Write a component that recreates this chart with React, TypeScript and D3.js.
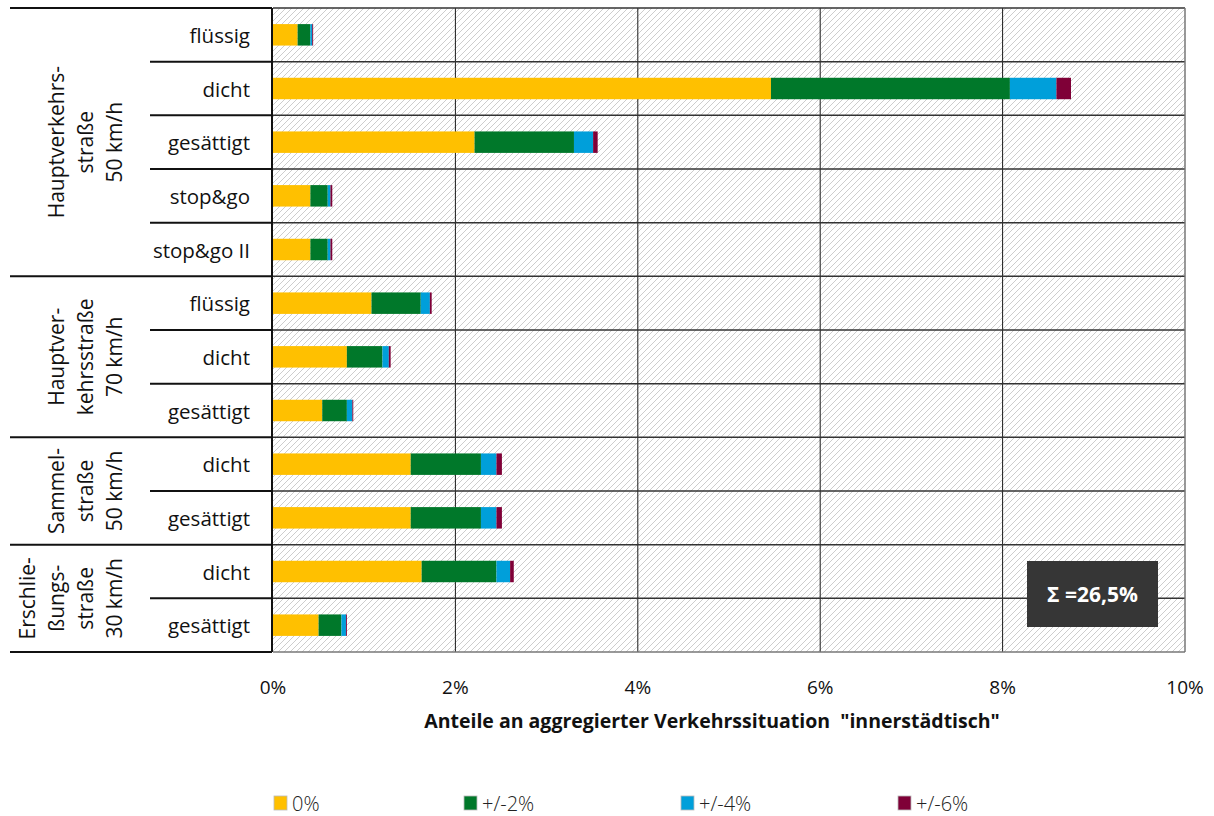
import * as d3 from "d3";

const seriesNames = ["0%", "+/-2%", "+/-4%", "+/-6%"];
const seriesColors = ["#FFC000", "#00782A", "#009FDA", "#7F0037"];

const groupLabels = [
  ["Hauptverkehrs-", "straße", "50 km/h"],
  ["Hauptver-", "kehrsstraße", "70 km/h"],
  ["Sammel-", "straße", "50 km/h"],
  ["Erschlie-", "ßungs-", "straße", "30 km/h"],
];
const conditions = [
  "flüssig", "dicht", "gesättigt", "stop&go", "stop&go II",
  "flüssig", "dicht", "gesättigt",
  "dicht", "gesättigt",
  "dicht", "gesättigt",
];
const rowGroup = [0, 0, 0, 0, 0, 1, 1, 1, 2, 2, 3, 3];

// shares in percent per deviation class
const share0 = [0.27, 5.46, 2.21, 0.41, 0.41, 1.08, 0.81, 0.54, 1.51, 1.51, 1.63, 0.5];
const share2 = [0.14, 2.62, 1.09, 0.19, 0.19, 0.54, 0.39, 0.27, 0.77, 0.77, 0.82, 0.25];
const share4 = [0.02, 0.51, 0.21, 0.03, 0.03, 0.1, 0.07, 0.06, 0.17, 0.17, 0.15, 0.05];
const share6 = [0.01, 0.16, 0.05, 0.02, 0.02, 0.02, 0.02, 0.01, 0.06, 0.06, 0.04, 0.01];

const xTicks = [0, 2, 4, 6, 8, 10];
const totalLabel = "Σ =26,5%";
const axisTitle = 'Anteile an aggregierter Verkehrssituation\u00a0 "innerstädtisch"';

const W = 1214;
const H = 816;
const plot = { left: 273, right: 1185, top: 8, bottom: 652 };
const font = "'Open Sans', Lato, sans-serif";

export default function App() {
  const rows = conditions.map((c, i) => ({
    i,
    "0%": share0[i],
    "+/-2%": share2[i],
    "+/-4%": share4[i],
    "+/-6%": share6[i],
  }));
  const stacked = d3.stack<any>().keys(seriesNames)(rows);

  const x = d3.scaleLinear().domain([0, 10]).range([plot.left, plot.right]);
  const y = d3
    .scaleBand<number>()
    .domain(d3.range(conditions.length))
    .range([plot.top, plot.bottom])
    .padding(0);
  const bw = y.bandwidth();
  const barH = bw * 0.4;

  // group extents
  const groupSpans = groupLabels.map((_, g) => {
    const idx = rowGroup.map((r, i) => (r === g ? i : -1)).filter((i) => i >= 0);
    return { g, first: idx[0], last: idx[idx.length - 1] };
  });

  return (
    <svg
      width={W}
      height={H}
      style={{ position: "absolute", left: 0, top: 0, background: "#fff" }}
    >
      <defs>
        <pattern id="hatch" width={6} height={6} patternUnits="userSpaceOnUse">
          <rect width={6} height={6} fill="#fff" />
          <path d="M0,6 L6,0 M-1,1 L1,-1 M5,7 L7,5" stroke="#cdcdcd" strokeWidth={1} />
        </pattern>
      </defs>

      {/* plot background */}
      <rect
        x={plot.left}
        y={plot.top}
        width={plot.right - plot.left}
        height={plot.bottom - plot.top}
        fill="url(#hatch)"
      />

      {/* vertical grid */}
      {xTicks.slice(1, -1).map((t) => (
        <line key={t} x1={x(t)} x2={x(t)} y1={plot.top} y2={plot.bottom} stroke="#1a1a1a" strokeWidth={1} />
      ))}
      {/* row separators in plot */}
      {d3.range(1, conditions.length).map((i) => (
        <line
          key={i}
          x1={plot.left}
          x2={plot.right}
          y1={y(i)!}
          y2={y(i)!}
          stroke="#333"
          strokeWidth={1.5}
        />
      ))}
      <line x1={plot.left} x2={plot.right} y1={plot.top} y2={plot.top} stroke="#333" strokeWidth={1.5} />
      <line x1={plot.right} x2={plot.right} y1={plot.top} y2={plot.bottom} stroke="#777" strokeWidth={1.5} />
      <line x1={plot.left} x2={plot.right} y1={plot.bottom} y2={plot.bottom} stroke="#777" strokeWidth={1.5} />

      {/* bars */}
      {stacked.map((s, k) => (
        <g key={s.key} fill={seriesColors[k]}>
          {s.map((d, i) => (
            <rect
              key={i}
              x={x(d[0])}
              width={Math.max(0, x(d[1]) - x(d[0]))}
              y={y(i)! + (bw - barH) / 2}
              height={barH}
            />
          ))}
        </g>
      ))}

      {/* left table */}
      <line x1={272} x2={272} y1={plot.top} y2={plot.bottom} stroke="#111" strokeWidth={2} />
      <line x1={10} x2={272} y1={plot.top} y2={plot.top} stroke="#111" strokeWidth={2} />
      {groupSpans.map(({ g, first, last }) => {
        const y0 = y(first)!;
        const y1 = y(last)! + bw;
        const cy = (y0 + y1) / 2;
        const lines = groupLabels[g];
        const n = lines.length;
        return (
          <g key={g}>
            <line x1={10} x2={272} y1={y1} y2={y1} stroke="#111" strokeWidth={2} />
            {d3.range(first + 1, last + 1).map((i) => (
              <line key={i} x1={150} x2={272} y1={y(i)!} y2={y(i)!} stroke="#111" strokeWidth={2} />
            ))}
            {lines.map((l, j) => {
              const cx = 114 - (n - 1 - j) * 29;
              return (
                <text
                  key={j}
                  transform={`translate(${cx},${cy}) rotate(-90)`}
                  textAnchor="middle"
                  dominantBaseline="central"
                  fontFamily={font}
                  fontSize={21}
                  fill="#111"
                >
                  {l}
                </text>
              );
            })}
          </g>
        );
      })}
      {conditions.map((c, i) => (
        <text
          key={i}
          x={250}
          y={y(i)! + bw / 2}
          textAnchor="end"
          dominantBaseline="central"
          fontFamily={font}
          fontSize={20.5}
          fill="#111"
        >
          {c}
        </text>
      ))}

      {/* x axis labels */}
      {xTicks.map((t) => (
        <text
          key={t}
          x={x(t)}
          y={687}
          textAnchor="middle"
          dominantBaseline="central"
          fontFamily={font}
          fontSize={19}
          fill="#111"
        >
          {t}%
        </text>
      ))}
      <text
        x={712}
        y={720}
        textAnchor="middle"
        dominantBaseline="central"
        fontFamily={font}
        fontSize={19.5}
        fontWeight="bold"
        fill="#111"
      >
        {axisTitle}
      </text>

      {/* total box */}
      <rect x={1027} y={561} width={131} height={66} fill="#363636" />
      <text
        x={1092.5}
        y={594}
        textAnchor="middle"
        dominantBaseline="central"
        fontFamily={font}
        fontSize={21}
        fontWeight="bold"
        fill="#fff"
      >
        {totalLabel}
      </text>

      {/* legend */}
      {seriesNames.map((s, k) => {
        const lx = [274, 464, 681, 898][k];
        return (
          <g key={s}>
            <rect x={lx} y={796} width={13} height={14} fill={seriesColors[k]} stroke="#bbb" strokeWidth={0.8} />
            <text
              x={lx + 18}
              y={803}
              dominantBaseline="central"
              fontFamily={font}
              fontSize={20}
              fontWeight={300}
              fill="#222"
            >
              {s}
            </text>
          </g>
        );
      })}
    </svg>
  );
}
